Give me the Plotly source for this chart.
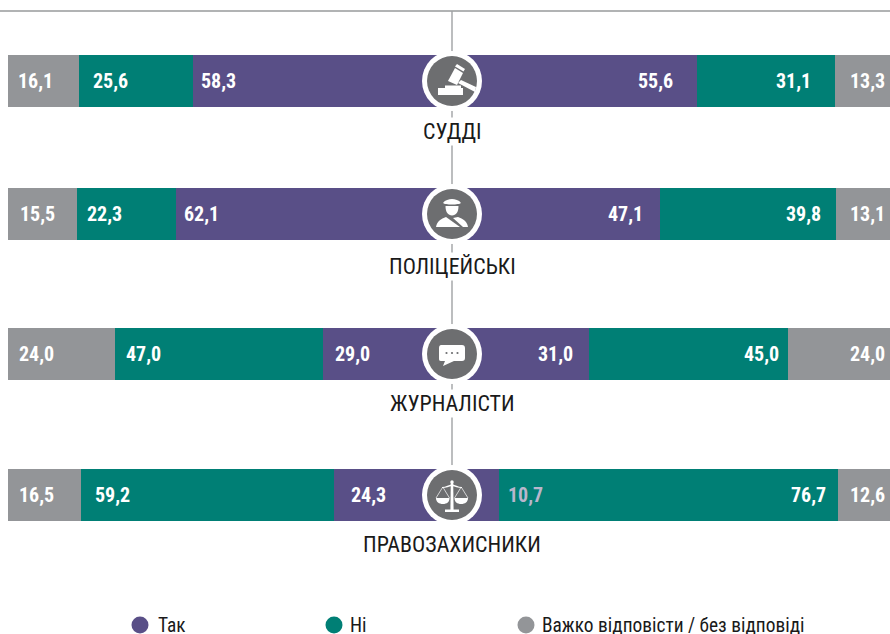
import plotly.graph_objects as go

# ---------- data ----------
CATEGORIES = ["СУДДІ", "ПОЛІЦЕЙСЬКІ", "ЖУРНАЛІСТИ", "ПРАВОЗАХИСНИКИ"]
SERIES_NAMES = ["Так", "Ні", "Важко відповісти / без відповіді"]
# bar lengths as drawn in the picture
LEFT_YES = [58.3, 62.1, 29.0, 26.6]
LEFT_NO = [25.6, 22.3, 47.0, 57.0]
LEFT_HARD = [16.1, 15.5, 24.0, 16.5]
RIGHT_YES = [55.6, 47.1, 31.0, 10.7]
RIGHT_NO = [31.1, 39.8, 45.0, 76.7]
RIGHT_HARD = [13.3, 13.1, 24.0, 12.6]
# numbers as printed on the bars (the last row's left bars are drawn differently)
LEFT_YES_LABELS = ["58,3", "62,1", "29,0", "24,3"]
LEFT_NO_LABELS = ["25,6", "22,3", "47,0", "59,2"]
LEFT_HARD_LABELS = ["16,1", "15,5", "24,0", "16,5"]
RIGHT_YES_LABELS = ["55,6", "47,1", "31,0", "10,7"]
RIGHT_NO_LABELS = ["31,1", "39,8", "45,0", "76,7"]
RIGHT_HARD_LABELS = ["13,3", "13,1", "24,0", "12,6"]

# ---------- layout constants (pixels) ----------
W, H = 890, 634
CX = 452
ROW_CENTRE_PX = [81, 214, 354, 495]
ROW_LABEL_PX = [131, 266, 403, 544]
LEGEND_DOT_PX = [140, 334, 526]
LEGEND_TEXT_PX = [159, 351, 543]
LEGEND_Y = 625
BAR_H = 52
PURPLE, GREEN, GREY, DISC = "#594f87", "#007f75", "#939598", "#6d6e70"
NARROW = "Roboto Condensed"

# inner padding of value labels, pixels from the segment's outer edge
PAD_L_YES = [6, 6, 10, 15]
PAD_L_NO = [12, 8, 9, 12]
PAD_L_HARD = [8, 10, 9, 9]
PAD_R_YES = [22, 15, 14, 0]
PAD_R_NO = [22, 13, 7, 10]


def fx(x):
    return x / W


def fy(y):
    return 1 - y / H


def path(cx, cy, d):
    out, is_x = [], True
    for tok in d.split():
        if tok.isalpha():
            out.append(tok)
            is_x = True
        elif is_x:
            out.append(f"{fx(cx + float(tok)):.5f}")
            is_x = False
        else:
            out.append(f"{fy(cy + float(tok)):.5f}")
            is_x = True
    return " ".join(out)


def fill_path(cx, cy, d, color="white"):
    return dict(type="path", xref="paper", yref="paper", path=path(cx, cy, d),
                fillcolor=color, line=dict(width=0), layer="above")


def stroke_path(cx, cy, d, color="white", width=1):
    return dict(type="path", xref="paper", yref="paper", path=path(cx, cy, d),
                line=dict(color=color, width=width), layer="above")


def disc(cx, cy, r, color):
    return dict(type="circle", xref="paper", yref="paper", x0=fx(cx - r), x1=fx(cx + r),
                y0=fy(cy + r), y1=fy(cy - r), fillcolor=color, line=dict(width=0), layer="above")


def gavel(cx, cy):
    return [
        fill_path(cx, cy, "M -4 0 L 3 -13 L 11 -8 L 5 4 Z"),
        fill_path(cx, cy, "M 3 -14.5 L 5 -17 L 13 -12 L 11.5 -9.5 Z"),
        fill_path(cx, cy, "M 9 -1 L 24 6 L 23 11 L 6 2 Z"),
        fill_path(cx, cy, "M -14 7 L -7 7 L -7 4.5 L 9 4.5 L 9 7 L 11 7 L 11 14 L -14 14 Z"),
    ]


def police(cx, cy):
    return [
        fill_path(cx, cy, "M -9 -11 C -7 -14 -3 -15 0 -15 C 3 -15 7 -14 9 -11 C 7 -9 -7 -9 -9 -11 Z"),
        fill_path(cx, cy, "M -6.5 -8 L 6.5 -8 C 6.5 -2 4 1.5 0 1.5 C -4 1.5 -6.5 -2 -6.5 -8 Z"),
        fill_path(cx, cy, "M -16 13 C -15 7 -11 5 -6 3 L 8 13 Z"),
        fill_path(cx, cy, "M 1 4 L 6 3 C 11 5 15 7 16 13 L 11 13 Z"),
    ]


def chat(cx, cy):
    shapes = [
        fill_path(cx, cy, "M -11 -9 L 10 -9 C 12 -9 13 -8 13 -6 L 13 4 C 13 6 12 7 10 7 "
                          "L 2 7 L -9 12 L -7 7 L -11 7 C -13 7 -13 6 -13 4 L -13 -6 C -13 -8 -12 -9 -11 -9 Z"),
    ]
    for dx in (-5.5, 0, 5.5):
        shapes.append(disc(cx + dx, cy - 1, 1.1, DISC))
    return shapes


def scales(cx, cy):
    return [
        disc(cx, cy - 13, 1.7, "white"),
        fill_path(cx, cy, "M -1.2 -13 L 1.2 -13 L 1.6 15 L -1.6 15 Z"),
        fill_path(cx, cy, "M -7 14.5 L 7 14.5 L 7 17 L -7 17 Z"),
        fill_path(cx, cy, "M -10 -8 C -6 -8 -3 -10 0 -11 C 3 -10 6 -8 10 -8 L 10 -7 C 6 -7 3 -8.5 0 -9 C -3 -8.5 -6 -7 -10 -7 Z"),
        fill_path(cx, cy, "M -16 3 L -2.5 3 C -2.5 7 -5 9 -9.2 9 C -13 9 -16 7 -16 3 Z"),
        fill_path(cx, cy, "M 2.5 3 L 16 3 C 16 7 13 9 9.2 9 C 5 9 2.5 7 2.5 3 Z"),
        stroke_path(cx, cy, "M -16 3 L -9.2 -8 L -2.5 3", "white", 0.7),
        stroke_path(cx, cy, "M 2.5 3 L 9.2 -8 L 16 3", "white", 0.7),
    ]


ICONS = [gavel, police, chat, scales]

fig = go.Figure()

for name, vals, color in zip(SERIES_NAMES, (LEFT_YES, LEFT_NO, LEFT_HARD), (PURPLE, GREEN, GREY)):
    fig.add_bar(y=ROW_CENTRE_PX, x=vals, orientation="h", width=BAR_H, marker=dict(color=color, line=dict(width=0)),
                xaxis="x", yaxis="y", showlegend=False, name=name, customdata=CATEGORIES,
                hovertemplate="%{customdata}: %{x}<extra>%{fullData.name}</extra>")
for name, vals, color in zip(SERIES_NAMES, (RIGHT_YES, RIGHT_NO, RIGHT_HARD), (PURPLE, GREEN, GREY)):
    fig.add_bar(y=ROW_CENTRE_PX, x=vals, orientation="h", width=BAR_H, marker=dict(color=color, line=dict(width=0)),
                xaxis="x2", yaxis="y", showlegend=False, name=name, customdata=CATEGORIES,
                hovertemplate="%{customdata}: %{x}<extra>%{fullData.name}</extra>")

annotations = []


def value_label(axis, x, y, text, anchor, shift, color="white"):
    annotations.append(dict(xref=axis, yref="y", x=x, y=y, text=f"<b>{text}</b>", showarrow=False,
                            xanchor=anchor, yanchor="middle", xshift=shift,
                            font=dict(family=NARROW, size=20, color=color)))


for i, ypx in enumerate(ROW_CENTRE_PX):
    a, b, c = LEFT_YES[i], LEFT_NO[i], LEFT_HARD[i]
    value_label("x", a + b + c, ypx, LEFT_HARD_LABELS[i], "left", PAD_L_HARD[i])
    value_label("x", a + b, ypx, LEFT_NO_LABELS[i], "left", PAD_L_NO[i])
    value_label("x", a, ypx, LEFT_YES_LABELS[i], "left", PAD_L_YES[i])
    a, b = RIGHT_YES[i], RIGHT_NO[i]
    if a < 15:  # the segment is too short, the label moves onto the next one
        value_label("x2", a, ypx, RIGHT_YES_LABELS[i], "left", 7, "#b9b6cc")
    else:
        value_label("x2", a, ypx, RIGHT_YES_LABELS[i], "right", -PAD_R_YES[i])
    value_label("x2", a + b, ypx, RIGHT_NO_LABELS[i], "right", -PAD_R_NO[i])
    value_label("paper", 1, ypx, RIGHT_HARD_LABELS[i], "right", -3)
    annotations.append(dict(xref="paper", yref="paper", x=fx(CX), y=fy(ROW_LABEL_PX[i]), text=CATEGORIES[i],
                            showarrow=False, xanchor="center", yanchor="middle", bgcolor="white", borderpad=1,
                            font=dict(family=NARROW, size=22, color="#1a1a1a")))

shapes = [
    dict(type="line", xref="paper", yref="paper", x0=0, x1=1, y0=fy(11), y1=fy(11),
         line=dict(color="#b1b3b4", width=2), layer="below"),
    dict(type="line", xref="paper", yref="paper", x0=fx(CX), x1=fx(CX), y0=fy(11), y1=fy(ROW_CENTRE_PX[3]),
         line=dict(color="#a0a2a4", width=1.4), layer="below"),
]
for icon, ypx in zip(ICONS, ROW_CENTRE_PX):
    shapes.append(disc(CX, ypx, 30, "white"))
    shapes.append(disc(CX, ypx, 25, DISC))
    shapes.extend(icon(CX, ypx))

for name, color, dot_x, text_x in zip(SERIES_NAMES, (PURPLE, GREEN, GREY), LEGEND_DOT_PX, LEGEND_TEXT_PX):
    shapes.append(disc(dot_x, LEGEND_Y, 8.5, color))
    annotations.append(dict(xref="paper", yref="paper", x=fx(text_x), y=fy(LEGEND_Y), text=name, showarrow=False,
                            xanchor="left", yanchor="middle", xshift=-3, height=17,
                            font=dict(family=NARROW, size=19.4, color="#1a1a1a")))

fig.update_layout(
    width=W, height=H, margin=dict(l=0, r=0, t=0, b=0, pad=0, autoexpand=False),
    paper_bgcolor="white", plot_bgcolor="rgba(0,0,0,0)", showlegend=False,
    barmode="stack", bargap=0,
    xaxis=dict(domain=[0, CX / W], range=[CX / 4.44, 0], visible=False, fixedrange=True),
    xaxis2=dict(domain=[CX / W, 1], range=[0, (W - CX) / 4.415], visible=False, anchor="y", fixedrange=True),
    yaxis=dict(range=[H, 0], visible=False, fixedrange=True),
    shapes=shapes, annotations=annotations,
)

fig.write_html("out.html", config=dict(displayModeBar=False), post_script="document.body.style.margin='0';")
